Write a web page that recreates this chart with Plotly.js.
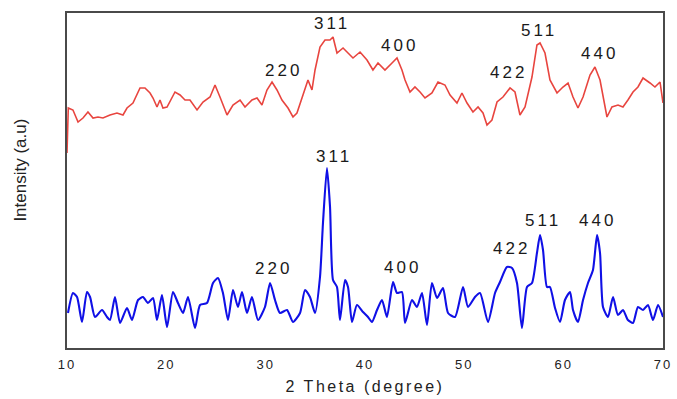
<!DOCTYPE html>
<html>
<head>
<meta charset="utf-8">
<script src="https://cdn.plot.ly/plotly-3.0.1.min.js"></script>
<style>
  html, body { margin: 0; padding: 0; background: #fff; }
  #chart { width: 677px; height: 399px; }
  .xtick text { letter-spacing: 2px; }
  .g-xtitle text { letter-spacing: 2.5px; }
  .annotation-text { letter-spacing: 3px; }
  .annotation:last-of-type .annotation-text { letter-spacing: 0; }
</style>
</head>
<body>
<div id="chart"></div>
<script>
// 2-theta (degree) and intensity (a.u.) for the upper (red) pattern
const redTheta = [10.00,10.13,10.60,11.11,11.61,12.11,12.62,13.12,13.62,14.33,15.03,15.64,16.04,16.64,17.35,17.85,18.36,18.66,19.06,19.36,19.66,20.07,20.87,21.38,21.88,22.38,23.09,23.69,24.40,24.90,25.40,26.11,26.71,27.42,27.92,28.62,29.13,29.63,30.13,30.64,31.14,31.64,32.25,32.75,33.15,33.66,34.26,34.66,34.97,35.47,35.97,36.48,36.78,37.18,37.79,38.79,39.50,40.20,40.80,41.31,42.01,42.72,43.22,43.72,44.03,44.53,45.03,45.54,46.04,46.74,47.35,48.05,48.56,49.26,49.76,50.27,50.87,51.38,51.88,52.28,52.78,53.29,53.89,54.60,55.10,55.60,56.11,56.81,57.31,57.62,58.12,58.62,59.33,59.93,60.44,60.94,61.44,61.95,62.65,63.15,63.66,64.36,64.86,65.47,65.97,66.47,66.98,67.48,67.99,68.69,69.19,69.70,70.00];
const redIntensity = [195,240,238,226,230,236,230,231,230,233,235,233,240,245,260,260,255,250,241,248,240,241,256,253,248,248,238,246,251,263,251,233,243,248,241,248,250,243,258,266,258,248,240,231,235,251,268,258,278,301,308,308,311,295,300,290,296,288,278,285,278,285,290,278,268,256,261,256,250,255,266,263,253,245,255,245,236,241,235,223,228,246,251,260,256,233,241,271,303,305,295,268,255,261,265,251,240,251,273,281,268,231,241,243,241,248,256,261,270,265,261,266,245];

// 2-theta (degree) and intensity (a.u.) for the lower (blue) pattern
const blueTheta = [10.10,10.60,11.01,11.51,12.01,12.32,12.82,13.52,14.03,14.33,14.83,15.34,16.04,16.54,17.15,17.65,18.15,18.66,19.06,19.56,20.07,20.67,21.17,21.68,22.18,22.89,23.39,24.09,24.70,25.20,25.70,26.21,26.71,27.21,27.62,28.12,28.62,29.23,29.93,30.44,30.94,31.44,32.15,32.75,33.46,33.96,34.46,34.97,35.47,35.77,36.17,36.48,36.78,37.18,37.48,37.99,38.29,38.69,39.19,39.80,40.30,40.70,41.21,41.71,42.21,42.82,43.22,43.72,44.03,44.73,45.23,45.74,46.24,46.74,47.25,47.85,48.36,49.06,49.87,50.37,51.07,51.58,52.38,53.09,53.59,54.29,54.80,55.30,55.80,56.31,56.81,57.31,57.62,57.92,58.32,58.62,59.13,59.63,60.13,60.64,60.94,61.44,61.95,62.45,62.95,63.36,63.66,63.96,64.46,64.97,65.47,65.97,66.47,66.98,67.48,67.99,68.49,68.99,69.50,70.00];
const blueIntensity = [35,55,51,26,56,51,31,38,31,28,51,25,40,28,48,51,45,50,28,53,21,56,45,35,51,20,43,45,65,70,55,28,58,41,56,35,51,28,41,65,48,35,38,26,35,58,51,35,71,125,180,141,68,61,28,68,61,26,43,36,31,26,38,48,31,66,55,56,25,48,41,55,23,65,50,60,35,31,61,41,51,55,26,55,66,81,80,65,20,61,65,95,113,98,61,61,40,26,48,56,38,26,48,65,78,113,95,41,31,51,33,38,28,25,41,38,43,28,43,31];

// Miller-index labels
const peakLabels = ["220","311","400","422","511","440"];
const redLabelTheta  = [31.64,36.48,43.32,54.29,57.41,63.45];
const redLabelY      = [278,325,303,276,318,295];
const blueLabelTheta = [30.64,36.68,43.62,54.60,57.72,63.25];
const blueLabelY     = [80,192,81,100,128,128];

const labelFont = {family: "Liberation Sans, Arial, sans-serif", size: 17, color: "#1a1a1a"};
const annotations = [];
peakLabels.forEach((t, i) => {
  annotations.push({x: redLabelTheta[i], y: redLabelY[i], text: t, showarrow: false,
    xanchor: "center", yanchor: "middle", xshift: 1.5, font: labelFont});
  annotations.push({x: blueLabelTheta[i], y: blueLabelY[i], text: t, showarrow: false,
    xanchor: "center", yanchor: "middle", xshift: 1.5, font: labelFont});
});
annotations.push({
  xref: "paper", yref: "paper", x: 0, y: 0.531, xshift: -47,
  text: "Intensity (a.u)", textangle: -90, showarrow: false,
  xanchor: "center", yanchor: "middle",
  font: {family: "Liberation Sans, Arial, sans-serif", size: 17, color: "#222"}
});

const traces = [
  {x: redTheta, y: redIntensity, mode: "lines", type: "scatter",
   line: {color: "#e8453f", width: 1.6}, hoverinfo: "skip"},
  {x: blueTheta, y: blueIntensity, mode: "lines", type: "scatter",
   line: {color: "#1010e6", width: 2.1, shape: "spline", smoothing: 0.6}, hoverinfo: "skip"}
];

const layout = {
  width: 677, height: 399,
  margin: {l: 67, r: 14, t: 13, b: 51},
  paper_bgcolor: "#fff", plot_bgcolor: "#fff",
  showlegend: false,
  xaxis: {
    range: [10, 70], tickvals: [10,20,30,40,50,60,70],
    ticks: "outside", ticklen: 4, tickcolor: "rgba(0,0,0,0)",
    showgrid: false, zeroline: false,
    showline: true, mirror: true, linecolor: "#4a4a4a", linewidth: 1.8,
    tickfont: {family: "Liberation Sans, Arial, sans-serif", size: 13, color: "#222"},
    title: {text: "2 Theta (degree)", standoff: 9,
            font: {family: "Liberation Sans, Arial, sans-serif", size: 16, color: "#222"}}
  },
  yaxis: {
    range: [0, 335], showticklabels: false, ticks: "",
    showgrid: false, zeroline: false,
    showline: true, mirror: true, linecolor: "#4a4a4a", linewidth: 1.8
  },
  annotations: annotations
};

Plotly.newPlot("chart", traces, layout, {staticPlot: true, displayModeBar: false});
</script>
</body>
</html>
